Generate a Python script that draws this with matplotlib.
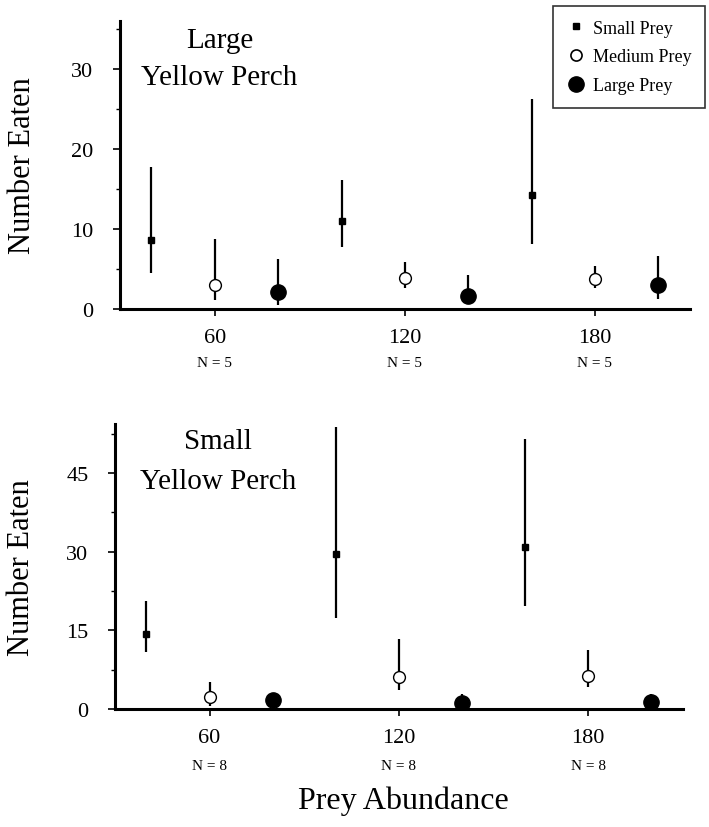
import matplotlib.pyplot as plt
from matplotlib.lines import Line2D
from matplotlib.transforms import blended_transform_factory

plt.rcParams['font.family'] = ['Liberation Serif', 'DejaVu Serif']

# prey abundance levels
abundance = [60, 120, 180]
n_large = ['N = 5', 'N = 5', 'N = 5']
n_small = ['N = 8', 'N = 8', 'N = 8']

# large yellow perch: mean, upper, lower
lg_small_mean = [8.6, 11.0, 14.3]
lg_small_hi = [17.8, 16.1, 26.2]
lg_small_lo = [4.5, 7.8, 8.1]
lg_med_mean = [3.0, 3.9, 3.8]
lg_med_hi = [8.7, 5.9, 5.4]
lg_med_lo = [1.1, 2.6, 2.6]
lg_large_mean = [2.1, 1.6, 3.0]
lg_large_hi = [6.2, 4.2, 6.6]
lg_large_lo = [0.5, 0.6, 1.2]

# small yellow perch
sm_small_mean = [14.3, 29.5, 30.9]
sm_small_hi = [20.6, 53.7, 51.4]
sm_small_lo = [10.8, 17.3, 19.6]
sm_med_mean = [2.3, 6.1, 6.3]
sm_med_hi = [5.1, 13.3, 11.3]
sm_med_lo = [0.5, 3.6, 4.2]
sm_large_mean = [1.8, 1.1, 1.3]
sm_large_hi = [1.8, 2.9, 2.9]
sm_large_lo = [1.8, 0.0, 0.0]

OFFSETS = {'small': -20, 'med': 0, 'large': 20}
STYLES = {
    'small': dict(marker='s', ms=4.5, mfc='black', mec='black'),
    'med': dict(marker='o', ms=8.5, mfc='white', mec='black', mew=1.0),
    'large': dict(marker='o', ms=11, mfc='black', mec='black'),
}


def draw_group(ax, kind, mean, hi, lo):
    x = [a + OFFSETS[kind] for a in abundance]
    yerr = [[m - l for m, l in zip(mean, lo)], [h - m for m, h in zip(mean, hi)]]
    ax.errorbar(x, mean, yerr=yerr, fmt='none', ecolor='black', elinewidth=1.6,
                capsize=0, zorder=2)
    ax.plot(x, mean, ls='none', zorder=3, **STYLES[kind])


def style_axis(ax, ylim, major, minor, nlabels, n_y, title, title_pos, ylab_x):
    ax.set_xlim(30, 210)
    ax.set_ylim(*ylim)
    ax.spines['top'].set_visible(False)
    ax.spines['right'].set_visible(False)
    ax.spines['left'].set_linewidth(2.2)
    ax.spines['bottom'].set_linewidth(2.2)
    ax.set_xticks(abundance)
    ax.set_yticks(major)
    ax.set_yticks(minor, minor=True)
    ax.tick_params(axis='both', which='major', labelsize=16, width=1.2, length=5)
    ax.tick_params(axis='y', which='minor', width=1.0, length=3)
    ax.tick_params(axis='x', pad=9)
    ax.tick_params(axis='y', pad=14)
    ax.set_ylabel('Number Eaten', fontsize=22)
    ax.yaxis.set_label_coords(ylab_x, 0.5)
    trans = blended_transform_factory(ax.transData, ax.transAxes)
    for a, lab in zip(abundance, nlabels):
        ax.text(a, n_y, lab, transform=trans,
                ha='center', va='center', fontsize=11)
    tx, ty1, ty2 = title_pos
    ax.text(tx, ty1, title[0], transform=ax.transAxes, ha='center',
            va='center', fontsize=21)
    ax.text(tx, ty2, title[1], transform=ax.transAxes, ha='center',
            va='center', fontsize=21)


fig = plt.figure(figsize=(7.09, 8.28), dpi=100)
ax1 = fig.add_axes([0.169, 0.6256, 0.804, 0.348])
ax2 = fig.add_axes([0.162, 0.1425, 0.801, 0.344])

draw_group(ax1, 'small', lg_small_mean, lg_small_hi, lg_small_lo)
draw_group(ax1, 'med', lg_med_mean, lg_med_hi, lg_med_lo)
draw_group(ax1, 'large', lg_large_mean, lg_large_hi, lg_large_lo)
style_axis(ax1, (0, 36), [0, 10, 20, 30], [5, 15, 25, 35], n_large, -0.185,
           ('Large', 'Yellow Perch'), (0.175, 0.935, 0.805), -0.145)

draw_group(ax2, 'small', sm_small_mean, sm_small_hi, sm_small_lo)
draw_group(ax2, 'med', sm_med_mean, sm_med_hi, sm_med_lo)
draw_group(ax2, 'large', sm_large_mean, sm_large_hi, sm_large_lo)
style_axis(ax2, (0, 54.3), [0, 15, 30, 45], [7.5, 22.5, 37.5, 52.5], n_small,
           -0.2, ('Small', 'Yellow Perch'), (0.181, 0.94, 0.80), -0.138)

fig.text(403 / 709, 1 - 801 / 828, 'Prey Abundance', ha='center', va='center',
         fontsize=23)

handles = [
    Line2D([], [], ls='none', marker='s', ms=5, mfc='black', mec='black'),
    Line2D([], [], ls='none', marker='o', ms=8, mfc='white', mec='black', mew=1.2),
    Line2D([], [], ls='none', marker='o', ms=11, mfc='black', mec='black'),
]
leg = fig.legend(handles, ['Small Prey', 'Medium Prey', 'Large Prey'],
                 loc='upper left', bbox_to_anchor=(553 / 709, 1 - 7 / 828),
                 fontsize=13, frameon=True, fancybox=False, edgecolor='black',
                 handletextpad=0.45, borderpad=0.75, labelspacing=0.65,
                 handlelength=1.0, borderaxespad=0)
leg.get_frame().set_linewidth(1.2)

fig.savefig('out.png', dpi=100)
